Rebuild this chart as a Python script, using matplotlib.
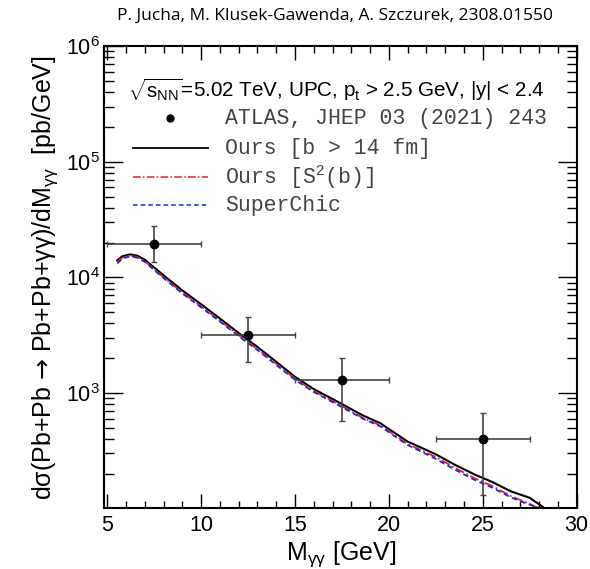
import matplotlib
matplotlib.use('Agg')
import matplotlib.pyplot as plt
from matplotlib.ticker import LogLocator, MultipleLocator, NullFormatter, LogFormatterSciNotation

plt.rcParams['font.family'] = ['Liberation Sans', 'DejaVu Sans']
plt.rcParams['mathtext.fontset'] = 'custom'
plt.rcParams['mathtext.rm'] = 'Liberation Sans'
plt.rcParams['mathtext.it'] = 'Liberation Sans:italic'
plt.rcParams['mathtext.bf'] = 'Liberation Sans:bold'
plt.rcParams['mathtext.sf'] = 'DejaVu Sans'

# ATLAS data points
atlas_m = [7.5, 12.5, 17.5, 25.0]
atlas_xlo = [5.0, 10.0, 15.0, 22.5]
atlas_xhi = [10.0, 15.0, 20.0, 27.5]
atlas_y = [19600, 3200, 1290, 401]
atlas_ylo = [13700, 1840, 570, 130]
atlas_yhi = [27600, 4550, 1990, 676]

# Ours [b > 14 fm]
ours_m = [5.53, 5.8, 6.2, 6.6, 7.0, 8.0, 9.0, 10.0, 11.0, 12.0, 13.0, 14.0,
          15.0, 16.0, 17.5, 18.56, 19.54, 21.0, 22.45, 23.5, 24.6, 25.5, 26.5, 27.5, 28.2]
ours_y = [14000, 15200, 15800, 15400, 14200, 10400, 7700, 5850, 4400, 3300, 2500, 1860,
          1380, 1080, 803, 646, 548, 380, 298, 240, 196, 170, 141, 124, 103.5]

# Ours [S^2(b)]
s2_m = [5.53, 5.8, 6.2, 6.6, 7.0, 8.0, 9.0, 10.0, 11.0, 12.0, 13.0, 14.0,
        15.0, 16.0, 17.5, 18.56, 19.54, 21.0, 22.45, 23.5, 24.6, 25.5, 26.5, 27.5, 27.95]
s2_y = [13500, 14800, 15400, 15000, 13800, 10000, 7400, 5620, 4230, 3170, 2400, 1790,
        1330, 1040, 770, 615, 525, 362, 282, 226, 182, 157, 128, 110, 101]

# SuperChic
sc_m = [5.53, 5.8, 6.2, 6.6, 7.0, 8.0, 9.0, 10.0, 11.0, 12.0, 13.0, 14.0,
        15.0, 16.0, 17.5, 18.56, 19.54, 21.0, 22.45, 23.5, 24.6, 25.5, 26.5, 27.5, 28.05]
sc_y = [13200, 14500, 15200, 14800, 13600, 9850, 7250, 5500, 4150, 3100, 2350, 1750,
        1300, 1020, 755, 605, 515, 355, 272, 218, 176, 152, 125, 108, 101]

RED = '#e8202a'
BLUE = '#1a2ad8'
DASHDOT = (0, (5, 1.5, 1, 1.5))
DASH = (0, (3, 2))

fig = plt.figure(figsize=(5.9, 5.69), dpi=100)
ax = fig.add_axes([0.177, 0.107, 0.801, 0.812])

ax.plot(ours_m, ours_y, color='black', lw=1.5)
ax.plot(s2_m, s2_y, color=RED, lw=1.3, linestyle=DASHDOT)
ax.plot(sc_m, sc_y, color=BLUE, lw=1.3, linestyle=DASH)

xerr = [[m - lo for m, lo in zip(atlas_m, atlas_xlo)], [hi - m for m, hi in zip(atlas_m, atlas_xhi)]]
yerr = [[y - lo for y, lo in zip(atlas_y, atlas_ylo)], [hi - y for y, hi in zip(atlas_y, atlas_yhi)]]
ax.errorbar(atlas_m, atlas_y, xerr=xerr, yerr=yerr, fmt='o', color='black', ms=6,
            ecolor='#444444', elinewidth=1.2, capsize=2.5, capthick=1.0)

ax.set_yscale('log')
ax.set_xlim(4.85, 30.02)
ax.set_ylim(101, 1e6)

ax.xaxis.set_major_locator(MultipleLocator(5))
ax.xaxis.set_minor_locator(MultipleLocator(1))
ax.yaxis.set_major_locator(LogLocator(base=10, numticks=10))
ax.yaxis.set_minor_locator(LogLocator(base=10, subs=range(2, 10), numticks=20))
ax.yaxis.set_major_formatter(LogFormatterSciNotation())
ax.yaxis.set_minor_formatter(NullFormatter())
ax.tick_params(which='both', direction='in', top=True, right=True, labelsize=15.5, width=1)
ax.tick_params(which='major', length=14)
ax.tick_params(which='minor', length=7)
ax.tick_params(axis='x', which='major', length=10, pad=5)
ax.tick_params(axis='x', which='minor', length=5)
for s in ax.spines.values():
    s.set_linewidth(1.5)

ax.set_xlabel(r'M$_{\mathrm{γγ}}$ [GeV]', fontsize=18, labelpad=2)
ax.set_ylabel(r'dσ(Pb+Pb $\mathsf{→}$ Pb+Pb+γγ)/dM$_{\mathrm{γγ}}$  [pb/GeV]', fontsize=18, labelpad=4)

# legend block
tr = ax.transAxes
ax.text(0.05, 0.905, r'$\sqrt{\mathrm{s}_{\mathrm{NN}}}$=5.02 TeV, UPC, p$_{\mathrm{t}}$ > 2.5 GeV, |y| < 2.4',
        transform=tr, fontsize=14.9, va='center', ha='left')
mono = 'Liberation Mono'
rows = [0.844, 0.779, 0.716, 0.656]
ax.plot([0.139], [rows[0]], 'o', color='black', ms=5, transform=tr)
ax.plot([0.06, 0.219], [rows[1]] * 2, color='black', lw=1.3, transform=tr)
ax.plot([0.06, 0.219], [rows[2]] * 2, color=RED, lw=1.1, linestyle=DASHDOT, transform=tr)
ax.plot([0.06, 0.219], [rows[3]] * 2, color=BLUE, lw=1.1, linestyle=DASH, transform=tr)
labels = ['ATLAS, JHEP 03 (2021) 243', 'Ours [b > 14 fm]', 'Ours [S$^2$(b)]', 'SuperChic']
for r, lab in zip(rows, labels):
    ax.text(0.255, r, lab, transform=tr, fontsize=15.5, family=mono, va='center', ha='left',
            color='#444444')

fig.text(0.568, 0.972, 'P. Jucha, M. Klusek-Gawenda, A. Szczurek, 2308.01550',
         fontsize=12.5, ha='center', va='center', family=['Open Sans', 'DejaVu Sans'])

fig.savefig('out.png', dpi=100)
